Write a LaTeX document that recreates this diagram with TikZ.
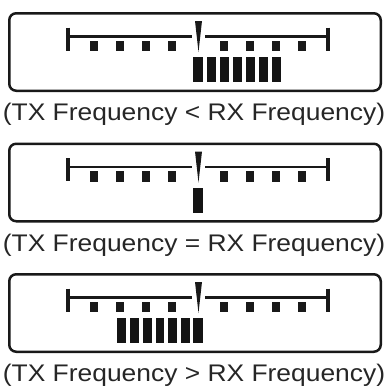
\documentclass[tikz,border=0pt]{standalone}
\usepackage{fontspec}
\setmainfont{Liberation Sans}
\tikzset{
  panel/.style={draw=black!90, line width=2.5pt, rounded corners=7pt, minimum width=371.5pt, minimum height=77.5pt, inner sep=0pt, outer sep=0pt},
  scaleline/.style={draw=black!90, line width=2.6pt},
  endtick/.style={draw=black!90, line width=3.2pt},
  dotmark/.style={fill=black!90},
  barmark/.style={fill=black!92},
  needle/.style={fill=black!90},
  lab/.style={font=\fontsize{24}{28}\selectfont, text=black!85, anchor=base, inner sep=0pt}
}
\newcommand{\drawmeter}{%
  \draw[scaleline] (68,36.5) -- (192,36.5);
  \draw[scaleline] (205,36.5) -- (328,36.5);
  \draw[endtick] (68,27.5) -- (68,50.5);
  \draw[endtick] (328,27.5) -- (328,50.5);
  \foreach \x in {94,120,146,172,224,250,276,302}
    \fill[dotmark] (\x-4,40.5) rectangle (\x+4,51);
  \fill[needle] (195,21) -- (202,21) -- (198.5,52) -- cycle;
}
\begin{document}
\begin{tikzpicture}[x=1pt,y=-1pt]
\useasboundingbox (0,0) rectangle (389,388);
% panel 1
\node[panel] (box1) at (195,52) {};
\drawmeter
\fill[barmark] (193,57) rectangle (203,82);
\foreach \x in {207,220,233,246,259,272}
  \fill[barmark] (\x,57) rectangle (\x+8.5,82);
\node[lab] (lab1) at (194,120.7) {\scalebox{1.1}[1]{(TX Frequency < RX Frequency)}};
% panel 2
\begin{scope}[shift={(0,130.5)}]
\node[panel] (box2) at (195,52) {};
\drawmeter
\fill[barmark] (193,57) rectangle (203,82);
\node[lab] (lab2) at (194,120.7) {\scalebox{1.1}[1]{(TX Frequency = RX Frequency)}};
\end{scope}
% panel 3
\begin{scope}[shift={(0,261)}]
\node[panel] (box3) at (195,52) {};
\drawmeter
\fill[barmark] (193,57) rectangle (203,82);
\foreach \x in {117,130,143,155.5,168,181}
  \fill[barmark] (\x,57) rectangle (\x+8.5,82);
\node[lab] (lab3) at (194,120.7) {\scalebox{1.1}[1]{(TX Frequency > RX Frequency)}};
\end{scope}
\end{tikzpicture}
\end{document}
